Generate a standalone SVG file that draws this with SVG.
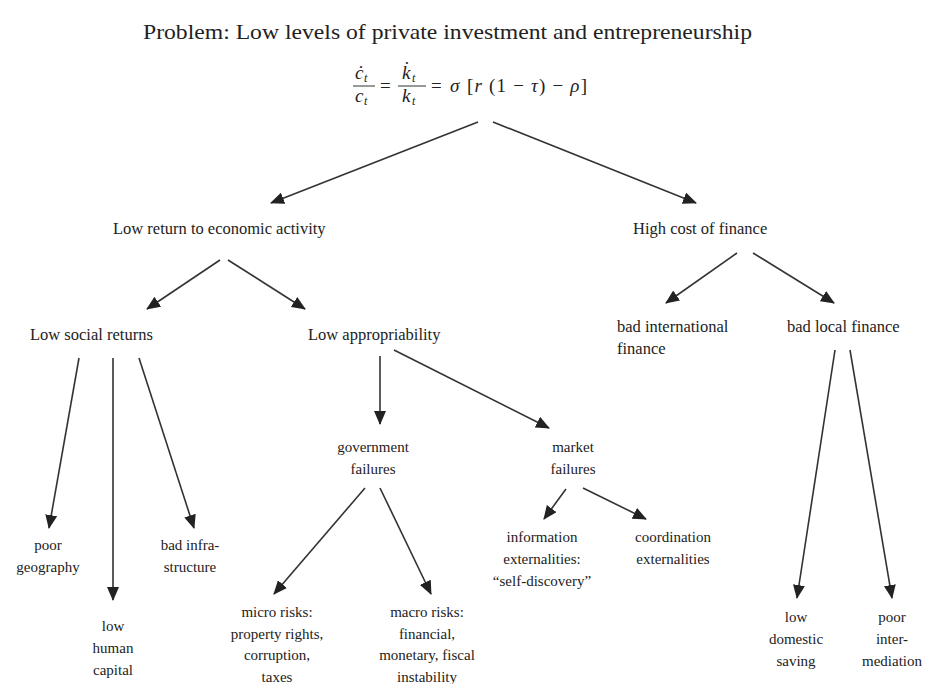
<svg xmlns="http://www.w3.org/2000/svg" width="925" height="684" viewBox="0 0 925 684">
<defs>
<style>
text{font-family:"Liberation Serif","Times New Roman",serif;fill:#222;}
.t{font-size:22px;}
.h{font-size:16.5px;}
.s{font-size:15px;text-anchor:middle;}
.m{font-size:19px;font-style:italic;}
.r{font-size:19px;}
.c line{stroke:#333;stroke-width:1.6;marker-end:url(#ah);}
</style>
<marker id="ah" markerUnits="userSpaceOnUse" markerWidth="14" markerHeight="12" viewBox="0 0 14 12" refX="13" refY="6" orient="auto">
<path d="M0,0 L14,6 L0,12 Z" fill="#222"/>
</marker>
</defs>
<rect width="925" height="684" fill="#fff"/>

<g id="title"><text class="t" x="143" y="39" textLength="609" lengthAdjust="spacingAndGlyphs">Problem: Low levels of private investment and entrepreneurship</text></g>

<g id="formula">
<text class="m" x="355" y="79">ċ</text><text class="m" x="364" y="82" style="font-size:12px">t</text>
<line x1="353" y1="86" x2="375" y2="86" stroke="#333" stroke-width="1"/>
<text class="m" x="355" y="102">c</text><text class="m" x="364" y="105" style="font-size:12px">t</text>
<text class="r" x="380" y="92">=</text>
<text class="m" x="402" y="79">k̇</text><text class="m" x="412" y="82" style="font-size:12px">t</text>
<line x1="398" y1="86" x2="426" y2="86" stroke="#333" stroke-width="1"/>
<text class="m" x="402" y="102">k</text><text class="m" x="412" y="105" style="font-size:12px">t</text>
<text class="r" x="431" y="92">=</text>
<text class="m" x="450" y="92">σ</text>
<text class="r" x="467" y="92" textLength="120" lengthAdjust="spacing">[<tspan font-style="italic">r</tspan> (1 − <tspan font-style="italic">τ</tspan>) − <tspan font-style="italic">ρ</tspan>]</text>
</g>

<g id="n-low-return"><text class="h" x="113" y="234">Low return to economic activity</text></g>
<g id="n-high-cost"><text class="h" x="633" y="234">High cost of finance</text></g>
<g id="n-low-social"><text class="h" x="30" y="340">Low social returns</text></g>
<g id="n-low-approp"><text class="h" x="308" y="340">Low appropriability</text></g>
<g id="n-bad-intl"><text class="h" x="617" y="332">bad international</text><text class="h" x="617" y="354">finance</text></g>
<g id="n-bad-local"><text class="h" x="787" y="332">bad local finance</text></g>

<g id="n-poor-geo"><text class="s" x="48" y="550">poor</text><text class="s" x="48" y="572">geography</text></g>
<g id="n-human"><text class="s" x="113" y="631">low</text><text class="s" x="113" y="653">human</text><text class="s" x="113" y="675">capital</text></g>
<g id="n-infra"><text class="s" x="190" y="550">bad infra-</text><text class="s" x="190" y="572">structure</text></g>

<g id="n-gov"><text class="s" x="373" y="452">government</text><text class="s" x="373" y="474">failures</text></g>
<g id="n-market"><text class="s" x="573" y="452">market</text><text class="s" x="573" y="474">failures</text></g>

<g id="n-micro"><text class="s" x="277" y="617">micro risks:</text><text class="s" x="277" y="639">property rights,</text><text class="s" x="277" y="660">corruption,</text><text class="s" x="277" y="682">taxes</text></g>
<g id="n-macro"><text class="s" x="427" y="617">macro risks:</text><text class="s" x="427" y="639">financial,</text><text class="s" x="427" y="660">monetary, fiscal</text><text class="s" x="427" y="682">instability</text></g>

<g id="n-info"><text class="s" x="542" y="542">information</text><text class="s" x="542" y="564">externalities:</text><text class="s" x="542" y="586">“self-discovery”</text></g>
<g id="n-coord"><text class="s" x="673" y="542">coordination</text><text class="s" x="673" y="564">externalities</text></g>

<g id="n-saving"><text class="s" x="796" y="622">low</text><text class="s" x="796" y="644">domestic</text><text class="s" x="796" y="666">saving</text></g>
<g id="n-intermed"><text class="s" x="892" y="622">poor</text><text class="s" x="892" y="644">inter-</text><text class="s" x="892" y="666">mediation</text></g>

<g id="connectors" class="c">
<line x1="478" y1="122" x2="271" y2="203"/>
<line x1="493" y1="122" x2="696" y2="203"/>
<line x1="220" y1="260" x2="147" y2="309"/>
<line x1="228" y1="260" x2="305" y2="309"/>
<line x1="737" y1="253" x2="666" y2="303"/>
<line x1="753" y1="253" x2="834" y2="303"/>
<line x1="79" y1="358" x2="49" y2="528"/>
<line x1="113" y1="358" x2="113" y2="600"/>
<line x1="139" y1="358" x2="194" y2="528"/>
<line x1="380" y1="356" x2="380" y2="424"/>
<line x1="394" y1="350" x2="549" y2="428"/>
<line x1="365" y1="488" x2="274" y2="594"/>
<line x1="380" y1="488" x2="431" y2="594"/>
<line x1="566" y1="489" x2="544" y2="519"/>
<line x1="583" y1="488" x2="646" y2="519"/>
<line x1="835" y1="350" x2="797" y2="598"/>
<line x1="850" y1="350" x2="892" y2="598"/>
</g>
</svg>
